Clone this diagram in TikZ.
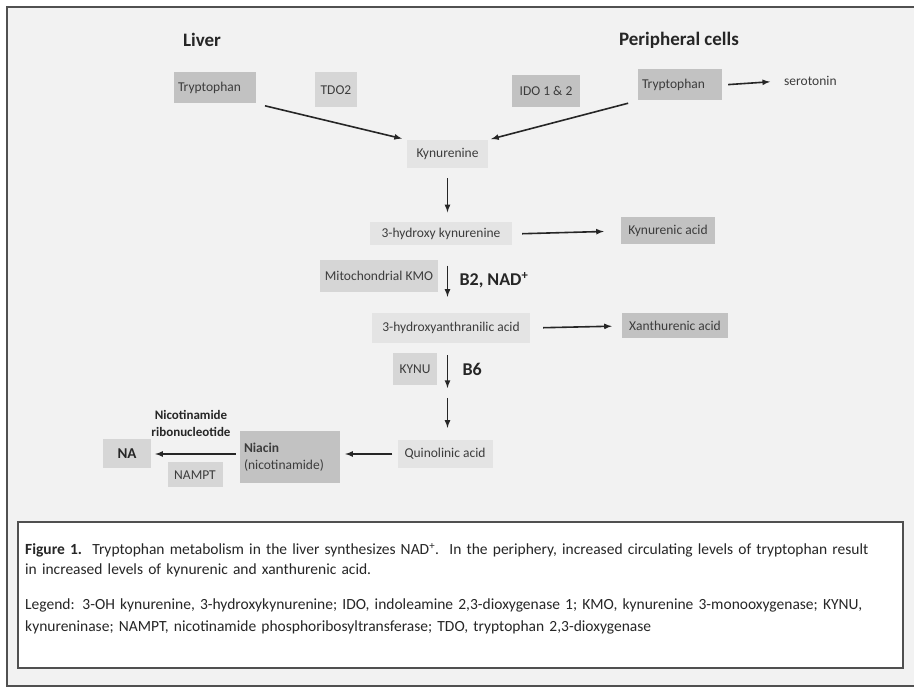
\documentclass[tikz,border=0pt]{standalone}
\usepackage{fontspec}
\setmainfont{Carlito}
\usepackage{tikz}
\usetikzlibrary{positioning}
\usetikzlibrary{calc}

\definecolor{bgcol}{HTML}{F2F2F2}
\definecolor{framecol}{HTML}{505050}
\definecolor{boxdark}{HTML}{C2C2C2}
\definecolor{boxmid}{HTML}{D6D6D6}
\definecolor{boxlight}{HTML}{E4E4E4}
\definecolor{txtcol}{HTML}{3C3C3C}

\tikzset{
    box/.style={inner sep=2pt, align=left, font=\fontsize{13.5}{15}\selectfont, text=txtcol},
    arr/.style={->, >=latex, line width=1.6pt, color=black!85},
    head/.style={font=\fontsize{19}{21}\selectfont\bfseries, text=black!85},
}

\begin{document}
\begin{tikzpicture}[x=1pt, y=-1pt]

    \useasboundingbox (0,0) rectangle (914,692);

    % frame and background
    \fill[bgcol] (7,7) rectangle (914,686);
    \draw[framecol, line width=2pt] (914,7) -- (7,7) -- (7,686) -- (914,686);

    \node[head] (liver) at (202,40) {Liver};
    \node[head] (periph) at (679,40) {Peripheral cells};

    % top row
    \node[box, fill=boxdark, minimum width=82, minimum height=31, text width=74] (trpL) at (215,88) {Tryptophan};
    \node[box, fill=boxmid, minimum width=42, minimum height=35, align=center] (tdo) at (336,90) {TDO2};
    \node[box, fill=boxdark, minimum width=68, minimum height=32, align=center] (ido) at (546,91) {IDO 1 \& 2};
    \node[box, fill=boxdark, minimum width=84, minimum height=31, text width=76] (trpP) at (680,85) {Tryptophan};
    \node[box, fill=none, anchor=west] (sero) at (782,81) {serotonin};

    % main column
    \node[box, fill=boxlight, minimum width=81, minimum height=28, align=center] (kyn) at (447.5,154) {Kynurenine};
    \node[box, fill=boxlight, minimum width=142, minimum height=23, align=center] (hk) at (441,234) {3-hydroxy kynurenine};
    \node[box, fill=boxdark, minimum width=94, minimum height=27, align=center] (kya) at (668,231) {Kynurenic acid};
    \node[box, fill=boxmid, minimum width=118, minimum height=32, align=center] (kmo) at (379,276) {Mitochondrial KMO};
    \node[box, fill=boxlight, minimum width=158, minimum height=30, align=center] (haa) at (451,328) {3-hydroxyanthranilic acid};
    \node[box, fill=boxdark, minimum width=106, minimum height=25, align=center] (xa) at (675,326) {Xanthurenic acid};
    \node[box, fill=boxmid, minimum width=44, minimum height=32, align=center] (kynu) at (415,369) {KYNU};
    \node[box, fill=boxlight, minimum width=95, minimum height=28, align=center] (quin) at (445,454) {Quinolinic acid};

    % bottom left
    \node[box, fill=boxdark, minimum width=100, minimum height=52, text width=92] (niacin) at (290,457) {\textbf{Niacin}\\[2pt](nicotinamide)};
    \node[box, fill=boxmid, minimum width=48, minimum height=29, align=center, font=\fontsize{15}{17}\selectfont\bfseries, text=black!85] (na) at (127,454) {NA};
    \node[box, fill=boxmid, minimum width=55, minimum height=25, align=center] (nampt) at (195,475) {NAMPT};
    \node[box, align=center, font=\fontsize{13}{17}\selectfont\bfseries, text=black!85] (nmn) at (191,423) {Nicotinamide\\ribonucleotide};

    \coordinate (mid) at (447.5,392);

    % arrows
    \draw[arr, shorten <=9pt, shorten >=5pt] (trpL.south east) -- (kyn.north west);
    \draw[arr, shorten <=10pt, shorten >=3pt] (trpP.south west) -- (kyn.north east);
    \draw[arr, shorten <=6pt, shorten >=12pt] (trpP.east) -- (sero.west);
    \draw[arr, shorten <=10pt, shorten >=10pt] (kyn.south) -- (kyn.south |- hk.north);
    \draw[arr, shorten <=10pt, shorten >=17pt] (hk.east) -- (kya.west);
    \draw[arr, shorten <=20pt, shorten >=16pt] (hk.south -| kyn) -- (haa.north -| kyn);
    \draw[arr, shorten <=13pt, shorten >=10pt] (haa.east) -- (xa.west);
    \draw[arr, shorten <=12pt, shorten >=4pt] (haa.south -| kyn) -- (mid);
    \draw[arr, shorten <=6pt, shorten >=12pt] (mid) -- (mid |- quin.north);
    \draw[arr, shorten <=5pt, shorten >=5pt] (quin.west) -- (niacin.east |- quin.west);
    \draw[arr, shorten <=4pt, shorten >=4pt] (niacin.west |- na.east) -- (na.east);

    \node[head, anchor=west, font=\fontsize{18}{20}\selectfont\bfseries] (b2) at (456,280) {B2, NAD\textsuperscript{+}};
    \node[head, anchor=west, font=\fontsize{18}{20}\selectfont\bfseries] (b6) at (459,369) {B6};

    % caption
    \draw[framecol, fill=white, line width=2pt] (18,522) rectangle (903,668);
    \node[anchor=north west, inner sep=0pt, text width=870, align=left, font=\fontsize{15.5}{20}\selectfont, text=black!85] (capt) at (25,543)
        {\textbf{Figure 1.}\ \ Tryptophan metabolism in the liver synthesizes NAD\textsuperscript{+}.\ \ In the periphery, increased circulating levels of tryptophan result\\
         in increased levels of kynurenic and xanthurenic acid.};
    \node[anchor=north west, inner sep=0pt, text width=870, align=left, font=\fontsize{15.5}{22}\selectfont, text=black!85] (legend) at (25,599)
        {Legend: 3-OH kynurenine, 3-hydroxykynurenine; IDO, indoleamine 2,3-dioxygenase 1; KMO, kynurenine 3-monooxygenase; KYNU,\\
         kynureninase; NAMPT, nicotinamide phosphoribosyltransferase; TDO, tryptophan 2,3-dioxygenase};

\end{tikzpicture}
\end{document}
